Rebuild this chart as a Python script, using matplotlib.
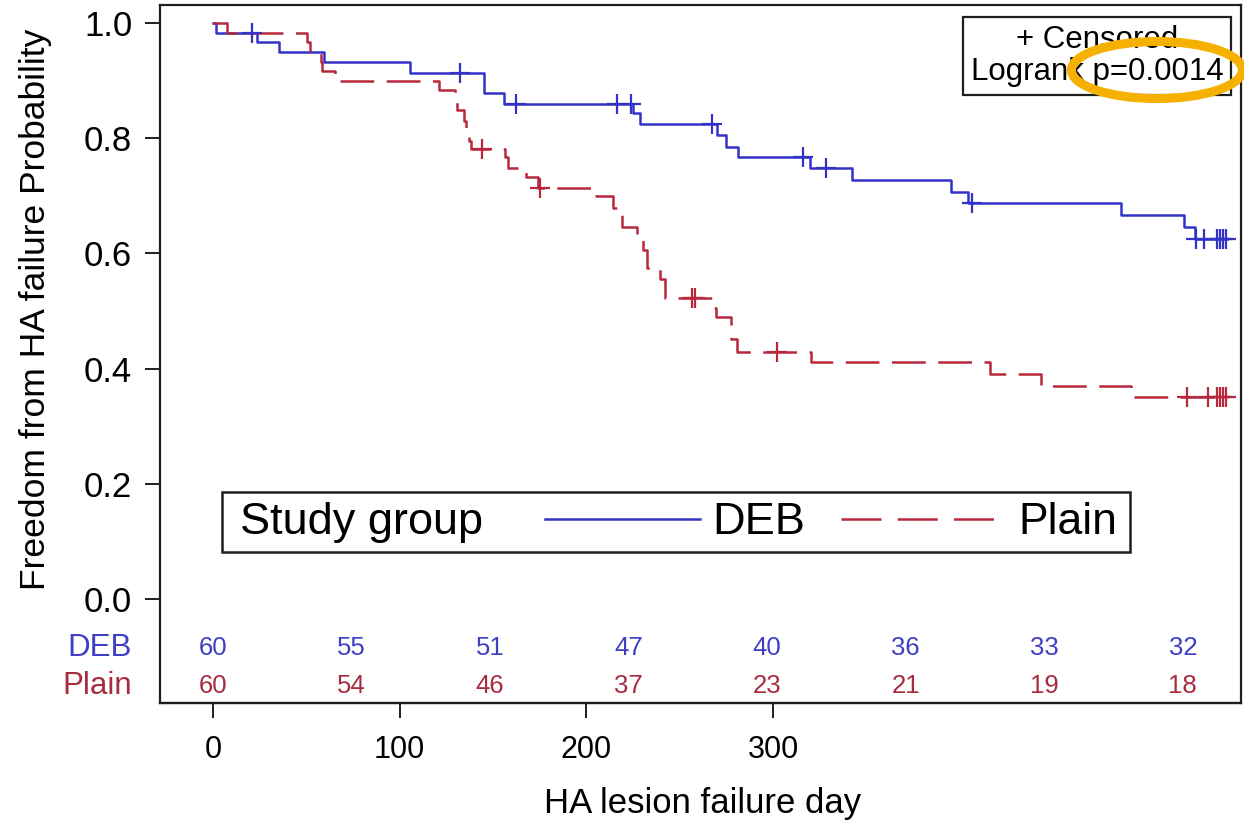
import numpy as np
import matplotlib
matplotlib.use('Agg')
import matplotlib.pyplot as plt
import matplotlib.transforms as mtransforms
from matplotlib.patches import Rectangle, Ellipse
from matplotlib.lines import Line2D

plt.rcParams['font.family'] = ['Liberation Sans', 'DejaVu Sans']

# ---------------- data ----------------
deb_time = [0, 1, 16, 24, 40, 71, 98, 105, 151.5, 154, 182, 185, 189.5, 215.5,
            230.5, 266.5, 272.5, 327.7, 350.4, 354.5]
deb_surv = [1.0, 0.983, 0.967, 0.950, 0.933, 0.914, 0.879, 0.860, 0.843, 0.825,
            0.806, 0.785, 0.767, 0.748, 0.727, 0.707, 0.687, 0.667, 0.645, 0.625]
deb_end = 366
deb_censor = [14, 89, 109.4, 146, 151, 180, 213, 221.4, 274, 354.8, 357.7,
              362.5, 363.5, 364.5, 365.5]

plain_time = [0, 5, 34, 35, 39, 39.5, 44, 81.6, 87.3, 88, 90.5, 91.5, 92.5, 93,
              105.3, 106.5, 113, 117.3, 138.2, 144.3, 146.5, 147.5, 153, 155.2,
              156.6, 161.3, 163.1, 180, 181.5, 187, 189, 216, 280.4, 299, 331.3]
plain_surv = [1.0, 0.983, 0.967, 0.950, 0.933, 0.916, 0.900, 0.884, 0.869, 0.849,
              0.830, 0.811, 0.796, 0.782, 0.767, 0.748, 0.732, 0.713, 0.699, 0.678,
              0.667, 0.646, 0.626, 0.606, 0.574, 0.556, 0.522, 0.505, 0.490, 0.452,
              0.428, 0.411, 0.391, 0.370, 0.351]
plain_end = 366
plain_censor = [97, 118, 173, 174, 203.4, 351.6, 359, 362.5, 363.5, 364.5, 365.5]

risk_times = [0, 50, 100, 150, 200, 250, 300, 350]
deb_risk = [60, 55, 51, 47, 40, 36, 33, 32]
plain_risk = [60, 54, 46, 37, 23, 21, 19, 18]

y_ticks = [0.0, 0.2, 0.4, 0.6, 0.8, 1.0]
bottom_ticks = [0, 100, 200, 300]
bottom_scale = 1.484   # bottom axis units per day (as drawn in the original)

groups = ['DEB', 'Plain']
blue = '#3232C8'
red = '#B8283C'
blue_txt = '#3F3FC4'
red_txt = '#A82C40'
dark = '#1e1e1e'

# ---------------- figure ----------------
fig = plt.figure(figsize=(12.44, 8.21), dpi=100)
ax = fig.add_axes([0.1286, 0.1437, 0.869, 0.8502])
ax.set_xlim(-19.1, 371)
ax.set_ylim(-0.1806, 1.03125)


def step_xy(t, s, end):
    return list(t) + [end], list(s) + [s[-1]]


def censor_y(t, s, c):
    idx = np.searchsorted(np.asarray(t), np.asarray(c), side='right') - 1
    return np.asarray(s)[idx]


x, y = step_xy(deb_time, deb_surv, deb_end)
ax.step(x, y, where='post', color=blue, lw=1.8, zorder=3)
ax.plot(deb_censor, censor_y(deb_time, deb_surv, deb_censor), ls='none',
        marker='+', ms=15, mew=1.6, color=blue, zorder=4)

x, y = step_xy(plain_time, plain_surv, plain_end)
ax.step(x, y, where='post', color=red, lw=1.8, dashes=(13.5, 5), zorder=3)
ax.plot(plain_censor, censor_y(plain_time, plain_surv, plain_censor), ls='none',
        marker='+', ms=15, mew=1.6, color=red, zorder=4)

# axes styling
for sp in ax.spines.values():
    sp.set_linewidth(1.6)
    sp.set_color(dark)
ax.set_yticks(y_ticks)
ax.set_yticklabels([f'{v:.1f}' for v in y_ticks])
ax.tick_params(axis='y', direction='out', length=11, width=1.4, pad=9,
               labelsize=25, color=dark)
ax.tick_params(axis='x', bottom=False, labelbottom=False)

sec = ax.secondary_xaxis('bottom', functions=(lambda d: d * bottom_scale,
                                               lambda u: u / bottom_scale))
sec.set_xticks(bottom_ticks)
sec.tick_params(direction='out', length=11, width=1.4, pad=12, labelsize=22,
                color=dark)
sec.spines['bottom'].set_linewidth(1.6)
sec.spines['bottom'].set_color(dark)

ax.set_xlabel('HA lesion failure day', fontsize=25, va='center')
ax.xaxis.set_label_coords(0.5018, -0.1433)
ax.set_ylabel('Freedom from HA failure Probability', fontsize=25.5, va='center')
ax.yaxis.set_label_coords(-0.1156, 0.5645)

# at-risk table
row_y = [-0.0851, -0.151]
risk_rows = [deb_risk, plain_risk]
txt_cols = [blue_txt, red_txt]
blend = mtransforms.blended_transform_factory(ax.transAxes, ax.transData)
for g, ry, vals, c in zip(groups, row_y, risk_rows, txt_cols):
    ax.text(-0.026, ry, g, transform=blend, ha='right', va='center',
            fontsize=22.5, color=c, clip_on=False)
    for t, n in zip(risk_times, vals):
        ax.text(t, ry, str(n), ha='center', va='center', fontsize=18.5, color=c)

# legend (drawn as in the original: title, line, label, line, label in one row)
leg_y = 0.2593
ax.add_patch(Rectangle((0.0574, 0.2163), 0.84, 0.086, transform=ax.transAxes,
                       fc='white', ec=dark, lw=1.8, zorder=5))
ax.text(0.074, leg_y, 'Study group', transform=ax.transAxes, ha='left',
        va='center', fontsize=32.5, zorder=6)
ax.add_line(Line2D([0.3565, 0.5], [leg_y + 0.004] * 2, transform=ax.transAxes,
                   color=blue, lw=1.8, zorder=6))
ax.text(0.511, leg_y, groups[0], transform=ax.transAxes, ha='left',
        va='center', fontsize=32.5, zorder=6)
ax.add_line(Line2D([0.6296, 0.7778], [leg_y + 0.004] * 2, transform=ax.transAxes,
                   color=red, lw=1.8, dashes=(16, 6.5), zorder=6))
ax.text(0.794, leg_y, groups[1], transform=ax.transAxes, ha='left',
        va='center', fontsize=32, zorder=6)

# inset box
ax.text(0.8668, 0.927, '+ Censored\nLogrank p=0.0014', transform=ax.transAxes,
        ha='center', va='center', multialignment='center', fontsize=22.5,
        linespacing=1.1, zorder=6,
        bbox=dict(boxstyle='square,pad=0.25', fc='white', ec=dark, lw=1.6))

# orange highlight ellipse
fig.add_artist(Ellipse((0.930, 0.9147), 0.1375, 0.0695, transform=fig.transFigure,
                       fill=False, ec='#F5B000', lw=6.5, zorder=10))

fig.savefig('out.png', dpi=100)
